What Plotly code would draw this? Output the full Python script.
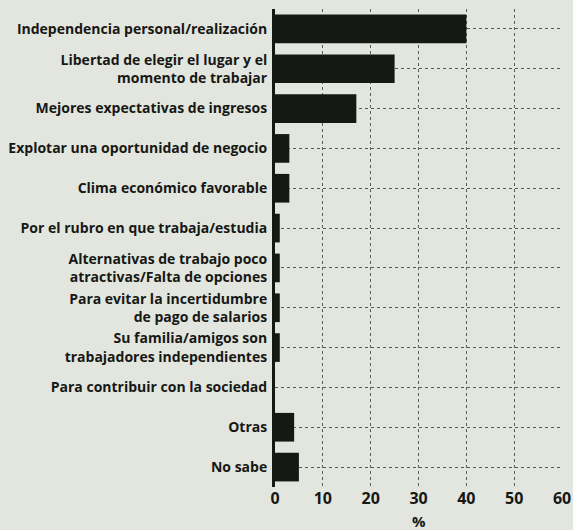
import plotly.graph_objects as go

categories = [
    "Independencia personal/realización",
    "Libertad de elegir el lugar y el<br>momento de trabajar",
    "Mejores expectativas de ingresos",
    "Explotar una oportunidad de negocio",
    "Clima económico favorable",
    "Por el rubro en que trabaja/estudia",
    "Alternativas de trabajo poco<br>atractivas/Falta de opciones",
    "Para evitar la incertidumbre<br>de pago de salarios",
    "Su familia/amigos son<br>trabajadores independientes",
    "Para contribuir con la sociedad",
    "Otras",
    "No sabe",
]
values = [40, 25, 17, 3, 3, 1, 1, 1, 1, 0, 4, 5]
x_ticks = [0, 10, 20, 30, 40, 50, 60]

bg = "#e3e5df"
ink = "#161814"
text_color = "#161814"
font_family = "Open Sans"

fig = go.Figure(
    go.Bar(
        x=values,
        y=categories,
        orientation="h",
        marker=dict(color=ink, line=dict(width=0)),
        width=0.72,
        hoverinfo="skip",
    )
)

fig.update_layout(
    width=573,
    height=530,
    paper_bgcolor=bg,
    plot_bgcolor=bg,
    margin=dict(l=275, r=10, t=9, b=43),
    showlegend=False,
    font=dict(family=font_family, color=text_color),
    annotations=[
        dict(
            text="%",
            xref="paper",
            yref="paper",
            x=0.5,
            y=-0.071,
            xanchor="center",
            yanchor="middle",
            showarrow=False,
            font=dict(size=15, family=font_family, weight=700, color=text_color),
        )
    ],
)

fig.update_xaxes(
    range=[0, 60.2],
    tickvals=x_ticks,
    ticktext=[str(v) for v in x_ticks],
    showgrid=True,
    gridcolor="#5a5c58",
    griddash="dot",
    gridwidth=1,
    zeroline=False,
    showline=False,
    ticks="",
    automargin=False,
    tickfont=dict(size=16, family=font_family, weight=700, color=text_color),
)

fig.update_yaxes(
    categoryorder="array",
    categoryarray=categories,
    autorange="reversed",
    showgrid=True,
    gridcolor="#5a5c58",
    griddash="dot",
    gridwidth=1,
    showline=True,
    linecolor=ink,
    linewidth=3,
    zeroline=False,
    ticks="",
    automargin=False,
    ticklabelstandoff=2,
    tickfont=dict(size=14, family=font_family, weight=700, color=text_color),
)

fig.write_html(
    "out.html",
    config={"displayModeBar": False},
    post_script="document.body.style.margin='0';document.body.style.overflow='hidden';",
)
